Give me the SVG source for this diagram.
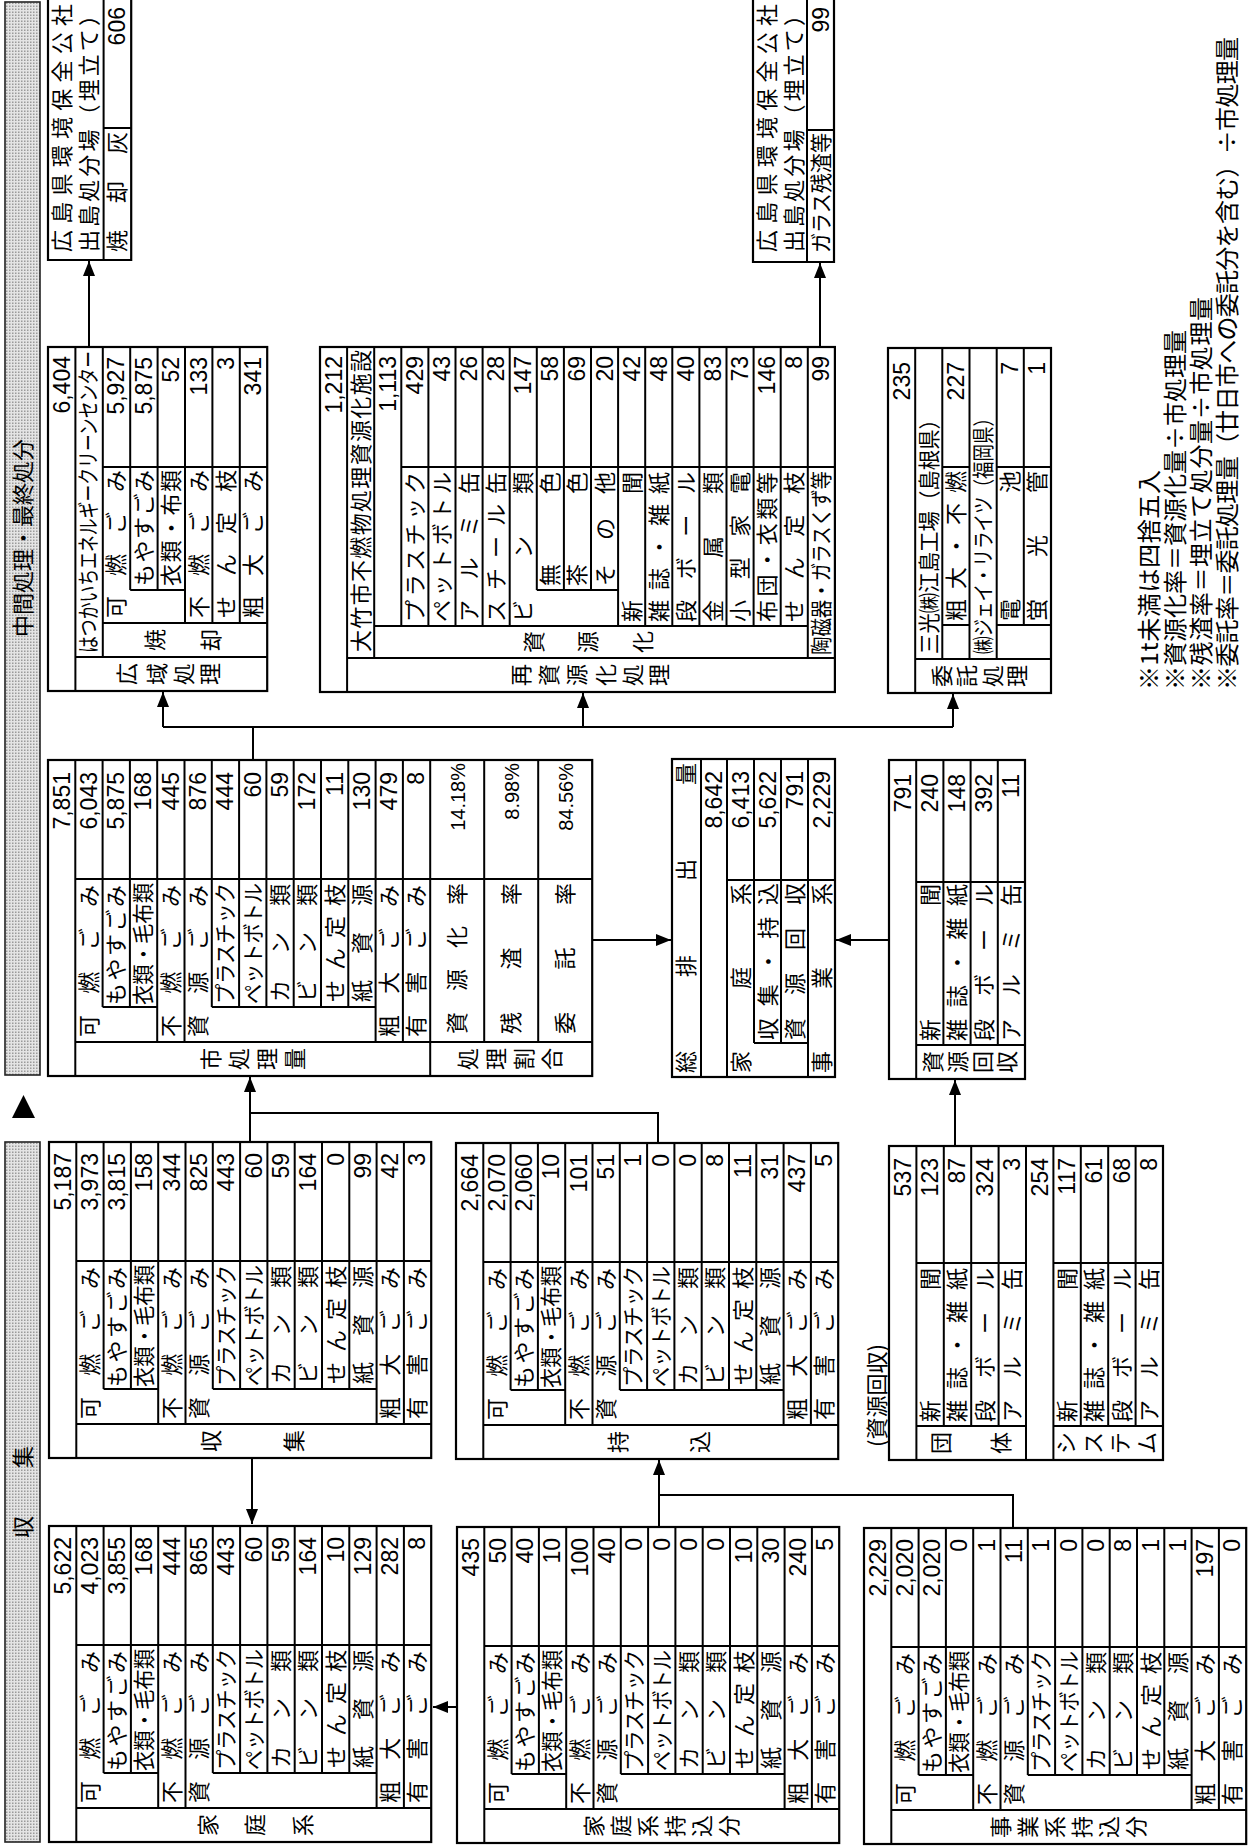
<svg xmlns="http://www.w3.org/2000/svg" width="1251" height="1846" viewBox="0 0 1251 1846">
<style>
.ln{fill:none;stroke:#000;stroke-width:2}
.bx{fill:#fff;stroke:#000;stroke-width:2.2}
.hd{fill:url(#dots);stroke:#222;stroke-width:1.6}
.cn{fill:none;stroke:#000;stroke-width:2}
text{fill:#000}
.j{font-family:"Noto Sans CJK JP","Noto Sans CJK SC",sans-serif;font-size:22px}
.v{font-family:"Noto Sans CJK JP","Noto Sans CJK SC",sans-serif;font-size:22px;text-anchor:middle}
.n{font-family:"Liberation Sans",Arial,sans-serif;font-size:23px;text-anchor:end}
.p{font-family:"Liberation Sans",Arial,sans-serif;font-size:20px;text-anchor:end}
.nt{font-family:"Noto Sans CJK JP","Noto Sans CJK SC",sans-serif;font-size:24px}
</style>
<defs>
<pattern id="dots" width="3" height="3" patternUnits="userSpaceOnUse"><rect width="3" height="3" fill="#e4e4e4"/><rect width="1.5" height="1.5" fill="#9a9a9a"/></pattern>
<marker id="ah" markerWidth="16" markerHeight="12" refX="15" refY="6" orient="auto" markerUnits="userSpaceOnUse"><path d="M0,0L15,6L0,12z" fill="#000"/></marker>
<g id="t14">
<path class="ln" d="M0 27.3H316M69 54.6H316M69 81.9H316M34 109.2H316M34 136.5H316M69 163.8H316M69 191.1H316M69 218.4H316M69 245.7H316M69 273H316M69 300.3H316M34 327.6H316M34 354.9H316M34 27.3V382.2M197 27.3V382.2M69 54.6V109.2M69 163.8V327.6"/>
<g class="j">
<text x="39" y="48.8" textLength="152">可燃ごみ</text>
<text x="71" y="76.1" textLength="120">もやすごみ</text>
<text x="71" y="103.4" textLength="122" lengthAdjust="spacingAndGlyphs">衣類・毛布類</text>
<text x="39" y="130.7" textLength="152">不燃ごみ</text>
<text x="39" y="158" textLength="152">資源ごみ</text>
<text x="72" y="185.3" textLength="121" lengthAdjust="spacingAndGlyphs">プラスチック</text>
<text x="72" y="212.6" textLength="121" lengthAdjust="spacingAndGlyphs">ペットボトル</text>
<text x="74" y="239.9" textLength="118">カン類</text>
<text x="74" y="267.2" textLength="118">ビン類</text>
<text x="74" y="294.5" textLength="118">せん定枝</text>
<text x="74" y="321.8" textLength="118">紙資源</text>
<text x="39" y="349.1" textLength="152">粗大ごみ</text>
<text x="39" y="376.4" textLength="152">有害ごみ</text>
</g>
</g>
</defs>
<g id="page" transform="matrix(0,-1,1,0,0,1846)">

<g id="header">
<rect class="hd" x="771" y="5" width="1073" height="35"/>
<text class="j" x="1308" y="31" text-anchor="middle">中間処理・最終処分</text>
<polygon points="728,12 728,35 751,23.5" fill="#000"/>
<rect class="hd" x="4" y="5" width="700" height="35"/>
<text class="j" x="308" y="31" textLength="92">収集</text>
</g>

<g id="n-katei" transform="translate(4,49)">
<rect class="bx" width="316" height="382.2"/>
<use href="#t14"/>
<g class="n"><text x="305" y="21.5">5,622</text><text x="305" y="48.8">4,023</text><text x="305" y="76.1">3,855</text><text x="305" y="103.4">168</text><text x="305" y="130.7">444</text><text x="305" y="158">865</text><text x="305" y="185.3">443</text><text x="305" y="212.6">60</text><text x="305" y="239.9">59</text><text x="305" y="267.2">164</text><text x="305" y="294.5">10</text><text x="305" y="321.8">129</text><text x="305" y="349.1">282</text><text x="305" y="376.4">8</text></g>
<g class="v"><text x="17" y="167">家</text><text x="17" y="214">庭</text><text x="17" y="262">系</text></g>
</g>

<g id="n-katei-mochikomi" transform="translate(3,457)">
<rect class="bx" width="316" height="382.2"/>
<use href="#t14"/>
<g class="n"><text x="305" y="21.5">435</text><text x="305" y="48.8">50</text><text x="305" y="76.1">40</text><text x="305" y="103.4">10</text><text x="305" y="130.7">100</text><text x="305" y="158">40</text><text x="305" y="185.3">0</text><text x="305" y="212.6">0</text><text x="305" y="239.9">0</text><text x="305" y="267.2">0</text><text x="305" y="294.5">10</text><text x="305" y="321.8">30</text><text x="305" y="349.1">240</text><text x="305" y="376.4">5</text></g>
<g class="v"><text x="17" y="145">家</text><text x="17" y="172">庭</text><text x="17" y="199">系</text><text x="17" y="226">持</text><text x="17" y="253">込</text><text x="17" y="280">分</text></g>
</g>

<g id="n-jigyo-mochikomi" transform="translate(2,864)">
<rect class="bx" width="316" height="382.2"/>
<use href="#t14"/>
<g class="n"><text x="305" y="21.5">2,229</text><text x="305" y="48.8">2,020</text><text x="305" y="76.1">2,020</text><text x="305" y="103.4">0</text><text x="305" y="130.7">1</text><text x="305" y="158">11</text><text x="305" y="185.3">1</text><text x="305" y="212.6">0</text><text x="305" y="239.9">0</text><text x="305" y="267.2">8</text><text x="305" y="294.5">1</text><text x="305" y="321.8">1</text><text x="305" y="349.1">197</text><text x="305" y="376.4">0</text></g>
<g class="v"><text x="17" y="145">事</text><text x="17" y="172">業</text><text x="17" y="199">系</text><text x="17" y="226">持</text><text x="17" y="253">込</text><text x="17" y="280">分</text></g>
</g>

<g id="n-shushu" transform="translate(388,49)">
<rect class="bx" width="316" height="382.2"/>
<use href="#t14"/>
<g class="n"><text x="305" y="21.5">5,187</text><text x="305" y="48.8">3,973</text><text x="305" y="76.1">3,815</text><text x="305" y="103.4">158</text><text x="305" y="130.7">344</text><text x="305" y="158">825</text><text x="305" y="185.3">443</text><text x="305" y="212.6">60</text><text x="305" y="239.9">59</text><text x="305" y="267.2">164</text><text x="305" y="294.5">0</text><text x="305" y="321.8">99</text><text x="305" y="349.1">42</text><text x="305" y="376.4">3</text></g>
<g class="v"><text x="17" y="170">収</text><text x="17" y="253">集</text></g>
</g>

<g id="n-mochikomi" transform="translate(387,456)">
<rect class="bx" width="316" height="382.2"/>
<use href="#t14"/>
<g class="n"><text x="305" y="21.5">2,664</text><text x="305" y="48.8">2,070</text><text x="305" y="76.1">2,060</text><text x="305" y="103.4">10</text><text x="305" y="130.7">101</text><text x="305" y="158">51</text><text x="305" y="185.3">1</text><text x="305" y="212.6">0</text><text x="305" y="239.9">0</text><text x="305" y="267.2">8</text><text x="305" y="294.5">11</text><text x="305" y="321.8">31</text><text x="305" y="349.1">437</text><text x="305" y="376.4">5</text></g>
<g class="v"><text x="17" y="170">持</text><text x="17" y="252">込</text></g>
</g>

<g id="n-shishori" transform="translate(770,48)">
<rect class="bx" width="316" height="544.2"/>
<use href="#t14"/>
<path class="ln" d="M0 382.2H316M34 382.2V544.2M197 382.2V544.2M34 436.2H316M34 490.2H316"/>
<g class="n"><text x="304" y="21.5">7,851</text><text x="304" y="48.8">6,043</text><text x="304" y="76.1">5,875</text><text x="304" y="103.4">168</text><text x="304" y="130.7">445</text><text x="304" y="158">876</text><text x="304" y="185.3">444</text><text x="304" y="212.6">60</text><text x="304" y="239.9">59</text><text x="304" y="267.2">172</text><text x="304" y="294.5">11</text><text x="304" y="321.8">130</text><text x="304" y="349.1">479</text><text x="304" y="376.4">8</text></g>
<g class="j"><text x="42" y="417.2" textLength="151">資源化率</text><text x="42" y="471.2" textLength="151">残渣率</text><text x="42" y="525.2" textLength="151">委託率</text></g>
<g class="p"><text x="313" y="416.5">14.18%</text><text x="313" y="470.5">8.98%</text><text x="313" y="524.5">84.56%</text></g>
<g class="v"><text x="17" y="171">市</text><text x="17" y="199">処</text><text x="17" y="227">理</text><text x="17" y="255">量</text><text x="17" y="428">処</text><text x="17" y="456">理</text><text x="17" y="484">割</text><text x="17" y="512">合</text></g>
</g>

<g id="n-haishutsu">
<rect class="bx" x="769" y="672" width="318" height="163"/>
<path class="ln" d="M769 701H1087M769 727H1087M803 754H1087M803 781H1087M769 808H1087M803 754V808M966 727V835"/>
<g class="j"><text x="773" y="694" textLength="310">総排出量</text><text x="773" y="748.5" textLength="190">家庭系</text><text x="806" y="775.5" textLength="157">収集・持込</text><text x="806" y="802.5" textLength="157">資源回収</text><text x="773" y="829.5" textLength="190">事業系</text></g>
<g class="n"><text x="1075" y="722">8,642</text><text x="1075" y="748.5">6,413</text><text x="1075" y="775.5">5,622</text><text x="1075" y="802.5">791</text><text x="1075" y="829.5">2,229</text></g>
</g>

<g id="n-shigen-kaishu">
<rect class="bx" x="767" y="889" width="319" height="136"/>
<path class="ln" d="M767 916.2H1086M801 916.2V1025M964 916.2V1025M801 943.4H1086M801 970.6H1086M801 997.8H1086"/>
<g class="n"><text x="1072" y="910.5">791</text><text x="1072" y="937.7">240</text><text x="1072" y="964.9">148</text><text x="1072" y="992.1">392</text><text x="1072" y="1019.3">11</text></g>
<g class="j"><text x="805" y="937.7" textLength="157">新聞</text><text x="805" y="964.9" textLength="157">雑誌・雑紙</text><text x="805" y="992.1" textLength="157">段ボール</text><text x="805" y="1019.3" textLength="157">アルミ缶</text></g>
<g class="v"><text x="784" y="941">資</text><text x="784" y="966">源</text><text x="784" y="991">回</text><text x="784" y="1015">収</text></g>
</g>

<g id="n-dantai-system">
<text class="j" x="399" y="885">(資源回収)</text>
<rect class="bx" x="386" y="889" width="314" height="274"/>
<path class="ln" d="M386 916.4H700M420 916.4V1026M583 916.4V1026M420 943.8H700M420 971.2H700M420 998.6H700M386 1026H700M386 1053.4H700M420 1053.4V1163M583 1053.4V1163M420 1080.8H700M420 1108.2H700M420 1135.6H700"/>
<g class="n"><text x="688" y="910.5">537</text><text x="688" y="937.9">123</text><text x="688" y="965.3">87</text><text x="688" y="992.7">324</text><text x="688" y="1020.1">3</text><text x="688" y="1047.5">254</text><text x="688" y="1074.9">117</text><text x="688" y="1102.3">61</text><text x="688" y="1129.7">68</text><text x="688" y="1157.1">8</text></g>
<g class="j"><text x="424" y="937.9" textLength="154">新聞</text><text x="424" y="965.3" textLength="154">雑誌・雑紙</text><text x="424" y="992.7" textLength="154">段ボール</text><text x="424" y="1020.1" textLength="154">アルミ缶</text><text x="424" y="1074.9" textLength="154">新聞</text><text x="424" y="1102.3" textLength="154">雑誌・雑紙</text><text x="424" y="1129.7" textLength="154">段ボール</text><text x="424" y="1157.1" textLength="154">アルミ缶</text></g>
<g class="v"><text x="403" y="949">団</text><text x="403" y="1009">体</text><text x="403" y="1074">シ</text><text x="403" y="1101">ス</text><text x="403" y="1128">テ</text><text x="403" y="1155">ム</text></g>
</g>

<g id="n-kouiki">
<rect class="bx" x="1155" y="48" width="344" height="219.2"/>
<path class="ln" d="M1155 75.4H1499M1189 75.4V267.2M1189 102.8H1499M1223 102.8V267.2M1379 102.8V267.2M1256 130.2H1499M1256 157.6H1499M1256 130.2V185M1223 185H1499M1223 212.4H1499M1223 239.8H1499"/>
<g class="n"><text x="1490" y="69.5">6,404</text><text x="1489" y="124.3">5,927</text><text x="1489" y="151.7">5,875</text><text x="1489" y="179.1">52</text><text x="1489" y="206.5">133</text><text x="1489" y="233.9">3</text><text x="1489" y="261.3">341</text></g>
<g class="j"><text x="1193" y="96" textLength="302" lengthAdjust="spacingAndGlyphs">はつかいちエネルギークリーンセンター</text><text x="1228" y="124.3" textLength="148">可燃ごみ</text><text x="1260" y="151.7" textLength="116">もやすごみ</text><text x="1260" y="179.1" textLength="116">衣類・布類</text><text x="1228" y="206.5" textLength="148">不燃ごみ</text><text x="1228" y="233.9" textLength="148">せん定枝</text><text x="1228" y="261.3" textLength="148">粗大ごみ</text></g>
<g class="v"><text x="1172" y="135">広</text><text x="1172" y="165">域</text><text x="1172" y="192">処</text><text x="1172" y="218">理</text><text x="1206" y="163">焼</text><text x="1206" y="219">却</text></g>
</g>

<g id="n-saishigen">
<rect class="bx" x="1154" y="320" width="345" height="514.9"/>
<path class="ln" d="M1154 347.1H1499M1188 347.1V834.9M1188 374.2H1499M1220 374.2V807.8M1220 401.3H1499M1379 401.3V834.9M1220 428.4H1499M1220 455.5H1499M1220 482.6H1499M1220 509.7H1499M1256 536.8H1499M1256 563.9H1499M1256 591H1499M1256 536.8V618.1M1220 618.1H1499M1220 645.2H1499M1220 672.3H1499M1220 699.4H1499M1220 726.5H1499M1220 753.6H1499M1220 780.7H1499M1188 807.8H1499"/>
<g class="n"><text x="1490" y="341.5">1,212</text><text x="1490" y="395.7">1,113</text><text x="1490" y="422.8">429</text><text x="1490" y="449.9">43</text><text x="1490" y="477">26</text><text x="1490" y="504.1">28</text><text x="1490" y="531.2">147</text><text x="1490" y="558.3">58</text><text x="1490" y="585.4">69</text><text x="1490" y="612.5">20</text><text x="1490" y="639.6">42</text><text x="1490" y="666.7">48</text><text x="1490" y="693.8">40</text><text x="1490" y="720.9">83</text><text x="1490" y="748">73</text><text x="1490" y="775.1">146</text><text x="1490" y="802.2">8</text><text x="1490" y="829.3">99</text></g>
<g class="j"><text x="1194" y="368.6" textLength="302">大竹市不燃物処理資源化施設</text><text x="1224" y="422.8" textLength="150">プラスチック</text><text x="1224" y="449.9" textLength="150">ペットボトル</text><text x="1224" y="477" textLength="150">アルミ缶</text><text x="1224" y="504.1" textLength="150">スチール缶</text><text x="1224" y="531.2" textLength="150">ビン類</text><text x="1260" y="558.3" textLength="114">無色</text><text x="1260" y="585.4" textLength="114">茶色</text><text x="1260" y="612.5" textLength="114">その他</text><text x="1224" y="639.6" textLength="150">新聞</text><text x="1224" y="666.7" textLength="150">雑誌・雑紙</text><text x="1224" y="693.8" textLength="150">段ボール</text><text x="1224" y="720.9" textLength="150">金属類</text><text x="1224" y="748" textLength="150">小型家電</text><text x="1224" y="775.1" textLength="150">布団・衣類等</text><text x="1224" y="802.2" textLength="150">せん定枝</text><text x="1191" y="829.3" textLength="184" lengthAdjust="spacingAndGlyphs">陶磁器・ガラスくず等</text></g>
<g class="v"><text x="1171" y="529">再</text><text x="1171" y="557">資</text><text x="1171" y="585">源</text><text x="1171" y="614">化</text><text x="1171" y="641">処</text><text x="1171" y="667">理</text><text x="1204" y="542">資</text><text x="1204" y="596">源</text><text x="1204" y="651">化</text></g>
</g>

<g id="n-itaku">
<rect class="bx" x="1153" y="888" width="345" height="163"/>
<path class="ln" d="M1153 915.2H1498M1187 915.2V1051M1187 942.3H1498M1221 942.3V969.5M1187 969.5H1498M1187 996.7H1498M1221 996.7V1051M1221 1023.8H1498M1379 942.3V969.5M1379 996.7V1051"/>
<g class="n"><text x="1484" y="909.5">235</text><text x="1484" y="963.8">227</text><text x="1484" y="1018.2">7</text><text x="1484" y="1045.3">1</text></g>
<g class="j"><text x="1192" y="936.7" textLength="245" lengthAdjust="spacingAndGlyphs">三光㈱江島工場（島根県）</text><text x="1225" y="963.8" textLength="150">粗大・不燃</text><text x="1192" y="991" textLength="245" lengthAdjust="spacingAndGlyphs">㈱ジェイ・リライツ（福岡県）</text><text x="1225" y="1018.2" textLength="150">電池</text><text x="1225" y="1045.3" textLength="150">蛍光管</text></g>
<g class="v"><text x="1170" y="950">委</text><text x="1170" y="975">託</text><text x="1170" y="1001">処</text><text x="1170" y="1025">理</text></g>
</g>

<g id="n-hiroshima1">
<path class="bx" d="M1846 48H1586V131.2H1846"/>
<path class="ln" d="M1586 103.6H1846M1718 103.6V131.2"/>
<g class="j"><text x="1594" y="69.5" textLength="248">広島県環境保全公社</text><text x="1594" y="97" textLength="248">出島処分場（埋立て）</text><text x="1594" y="124.8" textLength="120">焼却灰</text></g>
<text class="n" x="1839" y="124.8">606</text>
</g>

<g id="n-hiroshima2">
<path class="bx" d="M1846 753H1584V834H1846"/>
<path class="ln" d="M1584 807H1846M1716 807V834"/>
<g class="j"><text x="1594" y="774.5" textLength="248">広島県環境保全公社</text><text x="1594" y="802" textLength="248">出島処分場（埋立て）</text><text x="1593" y="828.5" textLength="120" lengthAdjust="spacingAndGlyphs">ガラス残渣等</text></g>
<text class="n" x="1839" y="828.5">99</text>
</g>

<g id="notes" class="nt">
<text x="1156" y="1158" textLength="220">※1t未満は四捨五入</text>
<text x="1156" y="1184" textLength="360">※資源化率＝資源化量÷市処理量</text>
<text x="1156" y="1210" textLength="393">※残渣率＝埋立て処分量÷市処理量</text>
<text x="1156" y="1236" textLength="653">※委託率＝委託処理量（廿日市への委託分を含む）÷市処理量</text>
</g>

<g id="connectors" class="cn">
<path d="M388 252H322" marker-end="url(#ah)"/>
<path d="M139 457V433" marker-end="url(#ah)"/>
<path d="M319 659H386" marker-end="url(#ah)"/>
<path d="M318 1013H351V659"/>
<path d="M703 658H733V250"/>
<path d="M704 250H769" marker-end="url(#ah)"/>
<path d="M906 592V671" marker-end="url(#ah)"/>
<path d="M906 889V836" marker-end="url(#ah)"/>
<path d="M700 955H766" marker-end="url(#ah)"/>
<path d="M1086 253H1119M1119 163V953"/>
<path d="M1119 163H1154" marker-end="url(#ah)"/>
<path d="M1119 583H1153" marker-end="url(#ah)"/>
<path d="M1119 953H1152" marker-end="url(#ah)"/>
<path d="M1499 89H1585" marker-end="url(#ah)"/>
<path d="M1499 820H1583" marker-end="url(#ah)"/>
</g>

</g>
</svg>
